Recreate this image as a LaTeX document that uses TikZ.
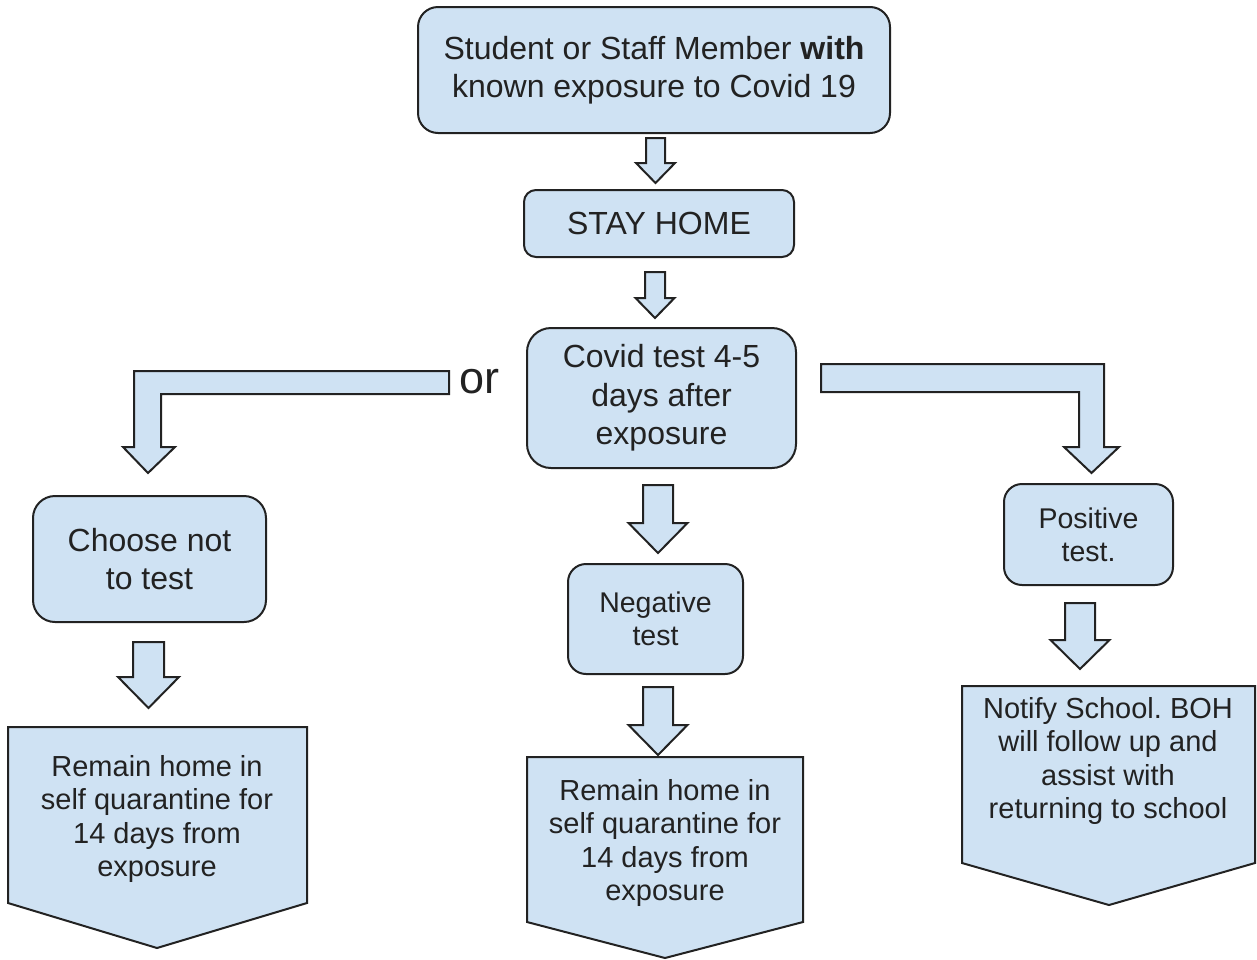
\documentclass[tikz,border=0pt]{standalone}
\usepackage{fontspec}
\setmainfont{Liberation Sans}
\frenchspacing
\definecolor{boxblue}{HTML}{CFE2F3}
\definecolor{inkgray}{HTML}{222222}
\tikzstyle{rbox} = [rectangle, draw=inkgray, line width=2pt, fill=boxblue, text=inkgray, align=center, inner sep=0pt]
\tikzstyle{bigtext} = [font=\fontsize{32}{38.5}\selectfont]
\tikzstyle{smalltext} = [font=\fontsize{28.5}{33}\selectfont]
\tikzstyle{pent} = [draw=inkgray, line width=2pt, fill=boxblue, line join=miter]
\tikzstyle{ptext} = [text=inkgray, align=center, inner sep=0pt, font=\fontsize{29}{33.5}\selectfont]
\tikzstyle{blockarrow} = [draw=inkgray, line width=2pt, fill=boxblue, line join=miter]
% down block arrow: centre x, top y, head y, tip y, half shaft, half head
\newcommand{\blockdown}[6]{\draw [blockarrow] (#1-#5,#2) -- (#1+#5,#2) -- (#1+#5,#3) -- (#1+#6,#3) -- (#1,#4) -- (#1-#6,#3) -- (#1-#5,#3) -- cycle;}

\begin{document}
\begin{tikzpicture}[x=1pt,y=-1pt]
\useasboundingbox (0,0) rectangle (1257,959);

\node (exposed) [rbox, bigtext, rounded corners=20pt, minimum width=472pt, minimum height=126pt] at (654,70) {Student or Staff Member \textbf{with}\\known exposure to Covid 19};
\node (stayhome) [rbox, bigtext, rounded corners=12pt, minimum width=270pt, minimum height=67pt] at (659,223.5) {\raisebox{-3pt}{STAY HOME}};
\node (covidtest) [rbox, bigtext, rounded corners=24pt, minimum width=269pt, minimum height=140pt] at (661.5,398) {Covid test 4-5\\days after\\exposure};
\node (notest) [rbox, bigtext, rounded corners=22pt, minimum width=233pt, minimum height=126pt] at (149.5,559) {Choose not\\to test};
\node (negative) [rbox, smalltext, rounded corners=18pt, minimum width=175pt, minimum height=110pt] at (655.5,619) {Negative\\test};
\node (positive) [rbox, smalltext, rounded corners=18pt, minimum width=169pt, minimum height=101pt] at (1088.5,534.5) {Positive\\test.};

\node (ortext) [text=inkgray, anchor=base west, inner sep=0pt, font=\fontsize{45}{50}\selectfont] at (459,393) {or};

% end boxes
\draw [pent] (8,727) -- (307,727) -- (307,903) -- (157,948) -- (8,903) -- cycle;
\draw [pent] (527,757) -- (803,757) -- (803,922) -- (665,958) -- (527,922) -- cycle;
\draw [pent] (962,686) -- (1255,686) -- (1255,863) -- (1109,905) -- (962,863) -- cycle;
\node (homeleft) [ptext] at (157,819) {Remain home in\\self quarantine for\\14 days from\\exposure};
\node (homemid) [ptext] at (665,843) {Remain home in\\self quarantine for\\14 days from\\exposure};
\node (notify) [ptext] at (1108,761) {Notify School. BOH\\will follow up and\\assist with\\returning to school};

% straight block arrows
\blockdown{655.5}{138}{163}{183}{9.5}{19.5}
\blockdown{655}{272}{298}{318}{10}{19.5}
\blockdown{658}{485}{523}{553}{15}{29.5}
\blockdown{658}{687}{725}{755}{15}{29.5}
\blockdown{148.5}{642}{677}{708}{15.5}{30.5}
\blockdown{1080}{603}{640}{669}{15}{29.5}

% bent block arrows
\draw [blockarrow] (449,371) -- (134,371) -- (134,447) -- (123,447) -- (148,473) -- (175,447) -- (161,447) -- (161,394) -- (449,394) -- cycle;
\draw [blockarrow] (821,364) -- (1104,364) -- (1104,447) -- (1119,447) -- (1091.5,473) -- (1064,447) -- (1079,447) -- (1079,392) -- (821,392) -- cycle;

\end{tikzpicture}
\end{document}
